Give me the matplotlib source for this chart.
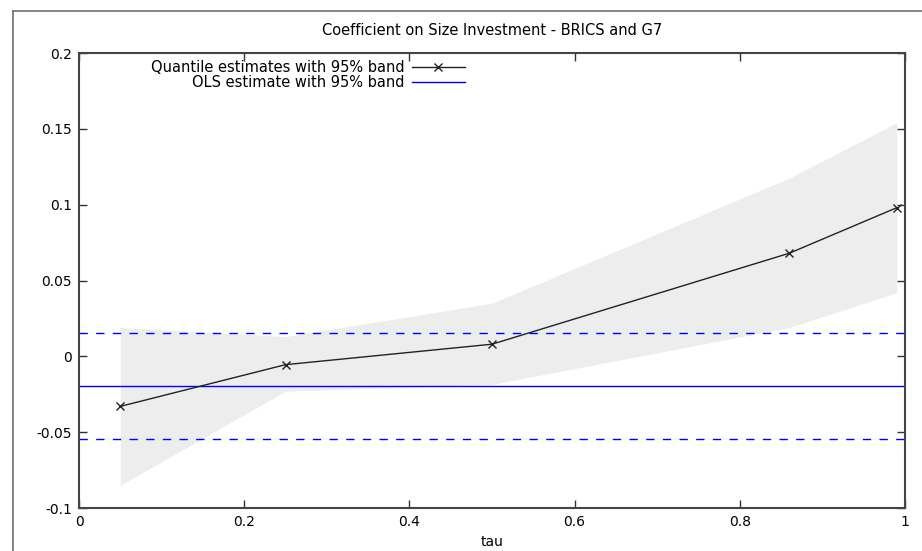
import numpy as np
import matplotlib
matplotlib.use("Agg")
import matplotlib.pyplot as plt
from matplotlib.lines import Line2D

# quantile regression estimates with 95% band
tau = [0.05, 0.25, 0.5, 0.86, 0.99]
coef = [-0.033, -0.0055, 0.008, 0.068, 0.098]
lower = [-0.085, -0.023, -0.0185, 0.019, 0.042]
upper = [0.019, 0.013, 0.035, 0.1175, 0.154]

# OLS estimate with 95% band
ols = -0.0198
ols_lo = -0.0548
ols_hi = 0.0152

xticks = [0, 0.2, 0.4, 0.6, 0.8, 1]
xticklabels = ["0", "0.2", "0.4", "0.6", "0.8", "1"]
yticks = [-0.1, -0.05, 0, 0.05, 0.1, 0.15, 0.2]
yticklabels = ["-0.1", "-0.05", "0", "0.05", "0.1", "0.15", "0.2"]

plt.rcParams["font.family"] = "DejaVu Sans"

fig = plt.figure(figsize=(9.22, 5.51), dpi=100)
ax = fig.add_axes([79 / 922, 43 / 551, 826 / 922, 455 / 551])

ax.fill_between(tau, lower, upper, color="#ededed", linewidth=0, zorder=1)
ax.axhline(ols, color="#0000ff", linewidth=1.0, zorder=2)
for v in (ols_lo, ols_hi):
    ax.axhline(v, color="#0000ff", linewidth=1.0, dashes=(6, 6), zorder=2)
ax.plot(tau, coef, color="#222222", linewidth=1.0, marker="x",
        markersize=6, markeredgewidth=1.0, zorder=3)

ax.set_xlim(0, 1)
ax.set_ylim(-0.1, 0.2)
ax.set_xticks(xticks)
ax.set_xticklabels(xticklabels)
ax.set_yticks(yticks)
ax.set_yticklabels(yticklabels)
ax.tick_params(direction="in", length=6, width=1, color="#333333",
               top=True, right=True, labelsize=10, pad=5)
for s in ax.spines.values():
    s.set_color("#444444")
    s.set_linewidth(1.5)

ax.set_xlabel("tau", fontsize=10, labelpad=4)
ax.set_title("Coefficient on Size Investment - BRICS and G7", fontsize=10.5, pad=13)

handles = [
    Line2D([], [], color="#222222", linewidth=1.0, marker="x",
           markersize=6, markeredgewidth=1.0),
    Line2D([], [], color="#0000ff", linewidth=1.0),
]
ax.legend(handles, ["Quantile estimates with 95% band", "OLS estimate with 95% band"],
          loc="upper right", bbox_to_anchor=(0.467, 0.985), frameon=False,
          markerfirst=False, handlelength=3.6, labelspacing=0.0,
          fontsize=10.5, borderaxespad=0, borderpad=0, handletextpad=0.5)

# window frame around the graph
fig.add_artist(Line2D([13 / 922, 13 / 922], [0, 1 - 11 / 551],
                      transform=fig.transFigure, color="#707070", linewidth=1.2))
fig.add_artist(Line2D([13 / 922, 1], [1 - 11 / 551, 1 - 11 / 551],
                      transform=fig.transFigure, color="#707070", linewidth=1.2))

fig.savefig("out.png", dpi=100)
